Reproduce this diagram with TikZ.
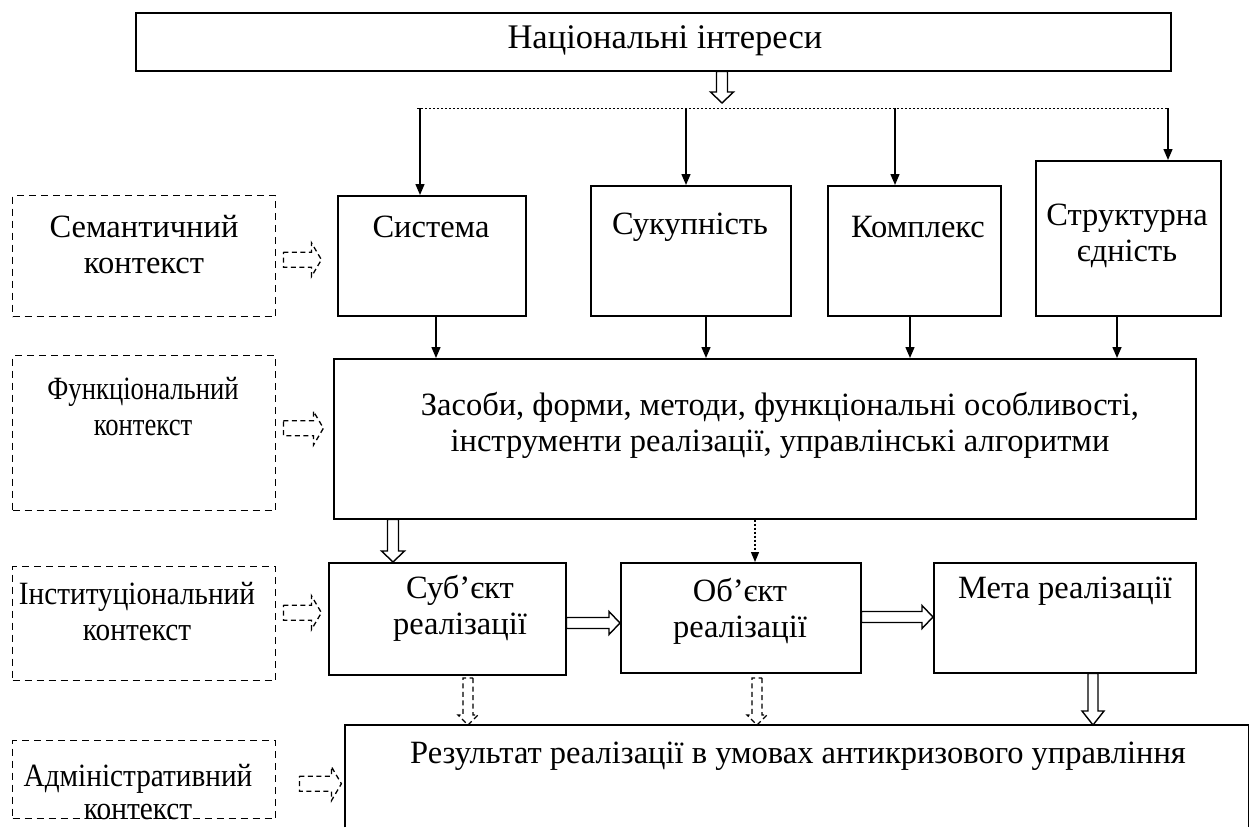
\documentclass[tikz,border=0pt]{standalone}
\usepackage{fontspec}
\setmainfont{Liberation Serif}
\newfontfamily\condfont[FakeStretch=0.82]{Liberation Serif}
\newfontfamily\condfontb[FakeStretch=0.9]{Liberation Serif}
\usetikzlibrary{calc,arrows.meta}
\tikzset{
  hw/.store in=\hw, hh/.store in=\hh, hl/.store in=\hl,
  hw=5.5pt, hh=11.5pt, hl=11pt,
  hollow/.style={line width=1.4pt, line join=miter, to path={
    ($(\tikztostart)!\hw!90:(\tikztotarget)$) --
    ($(\tikztotarget)!\hl!(\tikztostart)!\hw!90:(\tikztotarget)$) --
    ($(\tikztotarget)!\hl!(\tikztostart)!\hh!90:(\tikztotarget)$) --
    (\tikztotarget) --
    ($(\tikztotarget)!\hl!(\tikztostart)!\hh!-90:(\tikztotarget)$) --
    ($(\tikztotarget)!\hl!(\tikztostart)!\hw!-90:(\tikztotarget)$) --
    ($(\tikztostart)!\hw!-90:(\tikztotarget)$) -- cycle}},
  dhollow/.style={hollow, line width=1.3pt, dash pattern=on 5pt off 3.5pt},
  box/.style={draw, line width=1.5pt, inner sep=0pt, anchor=north west},
  cbox/.style={draw, line width=1.4pt, dash pattern=on 7pt off 5pt, inner sep=0pt, anchor=north west},
  txt/.style={font=\fontsize{32.5}{36}\selectfont, inner sep=0pt, align=center},
  ctxt/.style={font=\condfont\fontsize{32.5}{36}\selectfont, inner sep=0pt, align=center},
  ctxtb/.style={font=\condfontb\fontsize{32.5}{36}\selectfont, inner sep=0pt, align=center},
  arr/.style={line width=1.4pt, -{Triangle[length=11pt,width=9pt]}},
}
\begin{document}
\begin{tikzpicture}[x=1pt,y=-1pt]
\useasboundingbox (0,0) rectangle (1255,827);

% boxes
\node[box, minimum width=1035, minimum height=58] (top) at (135,12) {};
\node[box, minimum width=188, minimum height=120] (sys) at (337,195) {};
\node[box, minimum width=200, minimum height=130] (suk) at (590,185) {};
\node[box, minimum width=173, minimum height=130] (kom) at (827,185) {};
\node[box, minimum width=185, minimum height=155] (str) at (1035,160) {};
\node[box, minimum width=862, minimum height=160] (big) at (333,358) {};
\node[box, minimum width=237, minimum height=112] (sub) at (328,562) {};
\node[box, minimum width=240, minimum height=110] (obj) at (620,562) {};
\node[box, minimum width=262, minimum height=110] (meta) at (933,562) {};
\node[inner sep=0pt, anchor=north west, minimum width=903, minimum height=102] (res) at (345,725) {};
\draw[line width=1.5pt] (res.south west) -- (res.north west) -- (res.north east) -- (res.south east);

\node[cbox, minimum width=263, minimum height=121] (c1) at (12,195) {};
\node[cbox, minimum width=263, minimum height=155] (c2) at (12,355) {};
\node[cbox, minimum width=263, minimum height=114] (c3) at (12,566) {};
\node[cbox, minimum width=263, minimum height=78] (c4) at (12,740) {};

% texts
\node[txt, font=\fontsize{34.5}{38}\selectfont] (ttop) at (665,41) {Національні інтереси};
\node[txt] (tsys) at (431,227) {Система};
\node[txt] (tsuk) at (690,227) {Сукупність};
\node[txt] (tkom) at (918,227) {Комплекс};
\node[txt] (tstr) at (1127,236) {Структурна\\єдність};
\node[txt] (tbig) at (780,425) {Засоби, форми, методи, функціональні особливості,\\інструменти реалізації, управлінські алгоритми};
\node[txt] (tsub) at (460,608) {Суб’єкт\\реалізації};
\node[txt] (tobj) at (740,611) {Об’єкт\\реалізації};
\node[txt] (tmeta) at (1065,591) {Мета реалізації};
\node[txt] (tres) at (798,756) {Результат реалізації в умовах антикризового управління};

\node[txt] (tc1) at (144,245) {Семантичний\\контекст};
\node[ctxt] (tc2) at (143,407) {Функціональний\\контекст};
\node[ctxtb] (tc3) at (137,612) {Інституціональний\\контекст};
\node[ctxtb, font=\condfontb\fontsize{32.5}{33}\selectfont] (tc4) at (138,792) {Адміністративний\\контекст};

% top distribution
\coordinate (dl) at (417,108);
\coordinate (dr) at (1168,108);
\coordinate (ntip) at (722,103);
\draw[line width=1pt, dash pattern=on 2pt off 2pt] (dl) -- (dr);
\draw[hollow] (top.south -| ntip) to (ntip);

\coordinate (v1) at (420,108);
\coordinate (v2) at (686,108);
\coordinate (v3) at (895,108);
\draw[arr] (v1) -- (v1 |- sys.north);
\draw[arr] (v2) -- (v2 |- suk.north);
\draw[arr] (v3) -- (v3 |- kom.north);
\draw[arr] (dr) -- (dr |- str.north);

\coordinate (b1) at (436,0);
\coordinate (b2) at (706,0);
\coordinate (b3) at (910,0);
\coordinate (b4) at (1117,0);
\draw[arr] (b1 |- sys.south) -- (b1 |- big.north);
\draw[arr] (b2 |- suk.south) -- (b2 |- big.north);
\draw[arr] (b3 |- kom.south) -- (b3 |- big.north);
\draw[arr] (b4 |- str.south) -- (b4 |- big.north);

% third row
\coordinate (h1) at (393,0);
\coordinate (d1) at (755,0);
\coordinate (h2) at (0,623);
\coordinate (h3) at (0,617);
\draw[hollow] (h1 |- big.south) to (h1 |- sub.north);
\draw[line width=1.2pt, dash pattern=on 2pt off 2pt, -{Triangle[length=10pt,width=8pt]}] (d1 |- big.south) -- (d1 |- obj.north);
\draw[hollow] (h2 -| sub.east) to (h2 -| obj.west);
\draw[hollow] (h3 -| obj.east) to (h3 -| meta.west);

% to result
\coordinate (h4) at (468,678);
\coordinate (h5) at (757,678);
\coordinate (h6) at (1093,0);
\draw[dhollow, hw=5pt, hh=10pt, hl=10pt] (h4) to (h4 |- res.north);
\draw[dhollow, hw=5pt, hh=10pt, hl=10pt] (h5) to (h5 |- res.north);
\draw[hollow, hw=5pt, hh=11pt, hl=14pt] (h6 |- meta.south) to (h6 |- res.north);

% context arrows
\draw[dhollow, hw=7.5pt, hh=17pt, hl=10pt] ($(c1.east)+(7,3.5)$) to ($(c1.east)+(45,3.5)$);
\draw[dhollow, hw=7.5pt, hh=17pt, hl=10pt] ($(c2.east)+(7,-5)$) to ($(c2.east)+(47,-5)$);
\draw[dhollow, hw=7.5pt, hh=17pt, hl=10pt] ($(c3.east)+(7,-11)$) to ($(c3.east)+(45,-11)$);
\draw[dhollow, hw=7.5pt, hh=17pt, hl=10pt] ($(c4.east)+(23,4)$) to ($(c4.east)+(65,4)$);
\end{tikzpicture}
\end{document}
